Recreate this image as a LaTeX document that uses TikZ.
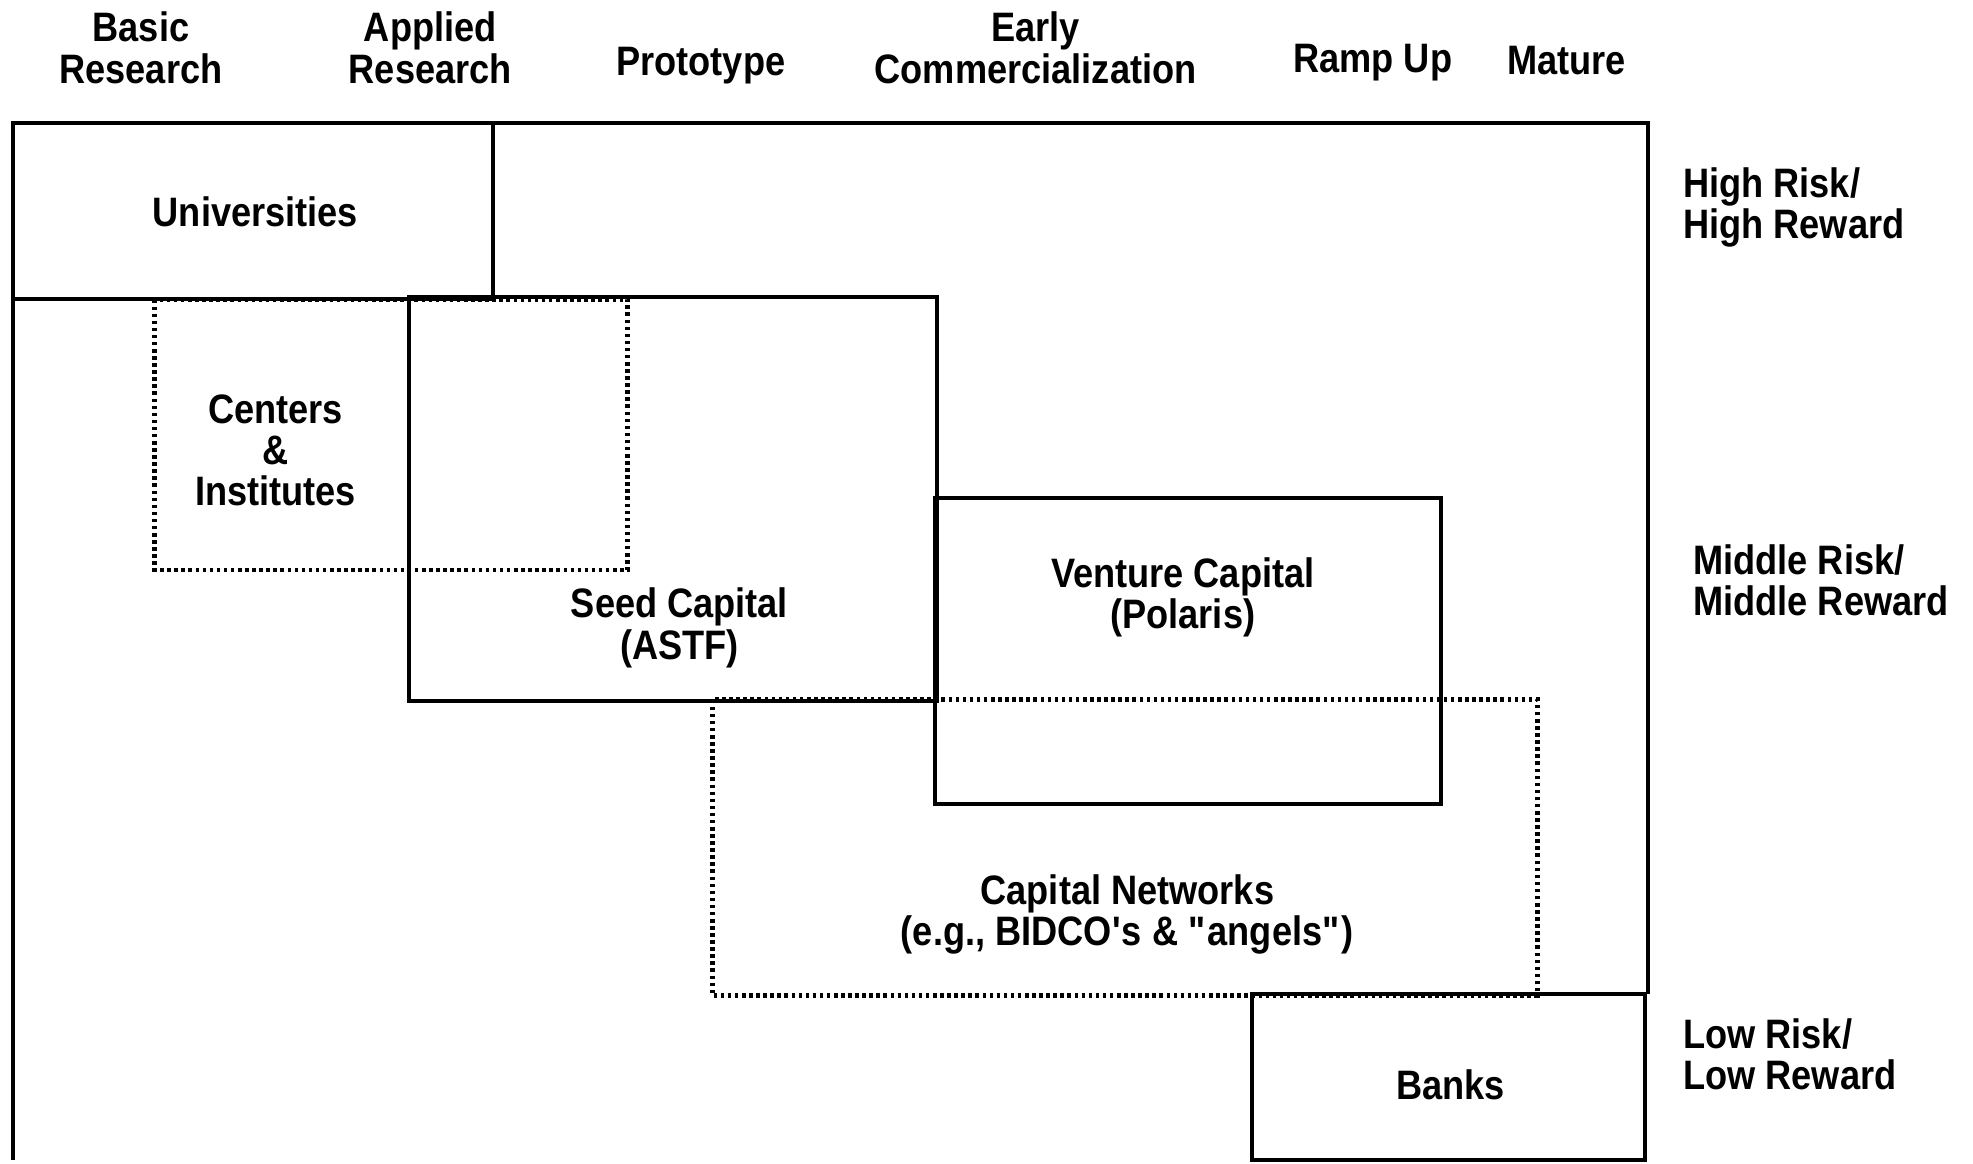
\documentclass[tikz,border=0pt]{standalone}
\usepackage{fontspec}
\setmainfont{Liberation Sans}[FakeStretch=0.88]
\begin{document}
\begin{tikzpicture}[x=0.1mm, y=-0.1mm, font=\fontsize{9.3}{9.3}\selectfont\bfseries]
    \tikzstyle{stage} = [align=center, inner sep=0pt]
    \tikzstyle{risk} = [align=left, anchor=west, inner sep=0pt]
    \tikzstyle{solidbox} = [draw, line width=0.9pt]
    \tikzstyle{dotbox} = [draw, line width=1.1pt, dash pattern=on 0.8pt off 0.8pt]

    \useasboundingbox (0,0) rectangle (1568,925);

    % Stages along the top
    \node [stage] (basic) at (112,38) {Basic\\Research};
    \node [stage] (applied) at (342,38) {Applied\\Research};
    \node [stage] (proto) at (557,52) {Prototype};
    \node [stage] (early) at (823,38) {Early\\Commercialization};
    \node [stage] (ramp) at (1091,50) {Ramp Up};
    \node [stage] (mature) at (1245,48) {Mature};

    % Risk levels on the right
    \node [risk] (high) at (1337,165) {High Risk/\\High Reward};
    \node [risk] (middle) at (1345,461) {Middle Risk/\\Middle Reward};
    \node [risk] (low) at (1337,838) {Low Risk/\\Low Reward};

    % Dotted groups
    \draw [dotbox] (123,238) rectangle (499,453);
    \draw [dotbox] (566,556) rectangle (1222,791);

    % Outer frame and funding boxes
    \draw [solidbox] (10,922) -- (10,98) -- (1310,98) -- (1310,790);
    \draw [solidbox] (10,98) rectangle (392,238);
    \draw [solidbox] (325,236) rectangle (745,557);
    \draw [solidbox] (743,396) rectangle (1145,639);
    \draw [solidbox] (995,790) rectangle (1307,922);

    % Box labels
    \node [stage] (univ) at (203,168) {Universities};
    \node [stage] (centers) at (219,358) {Centers\\\&\\Institutes};
    \node [stage] (seed) at (540,499) {Seed Capital\\(ASTF)};
    \node [stage] (venture) at (940,475) {Venture Capital\\(Polaris)};
    \node [stage] (networks) at (896,727) {Capital Networks\\(e.g., BIDCO\textquotesingle s \& \textquotedbl angels\textquotedbl)};
    \node [stage] (banks) at (1153,862) {Banks};
\end{tikzpicture}
\end{document}
